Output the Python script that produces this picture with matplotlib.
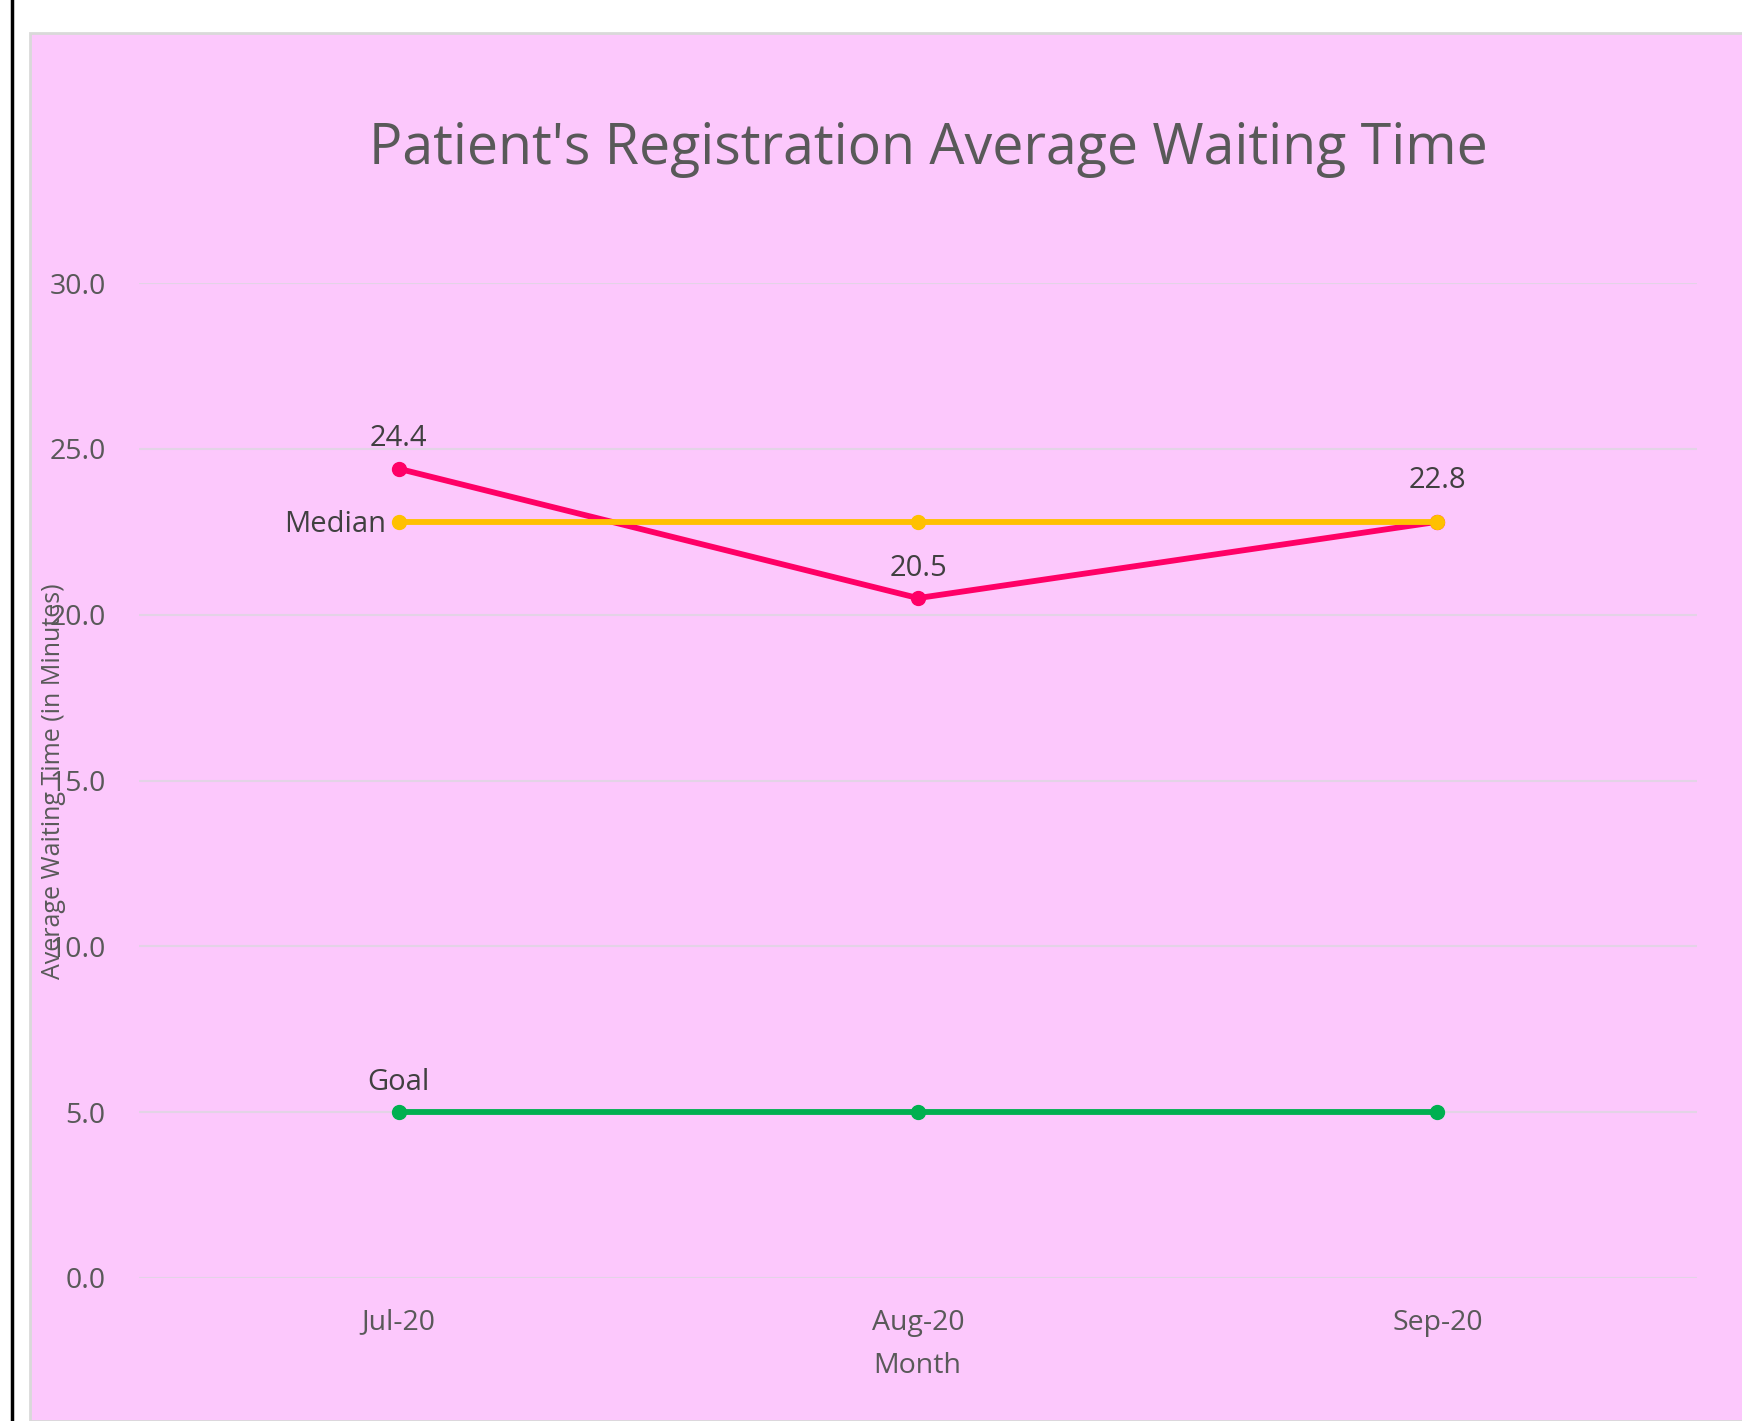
import numpy as np
import matplotlib.pyplot as plt
from matplotlib.patches import Rectangle
from matplotlib.lines import Line2D

# chart data
months = ['Jul-20', 'Aug-20', 'Sep-20']
waiting = [24.4, 20.5, 22.8]
median = [22.8, 22.8, 22.8]
goal = [5.0, 5.0, 5.0]
yticks = [0, 5, 10, 15, 20, 25, 30]

W, H = 1742, 1421
plt.rcParams['font.family'] = ['Open Sans', 'DejaVu Sans']

fig = plt.figure(figsize=(W / 100, H / 100), dpi=100)
fig.patch.set_facecolor('white')

# pink chart area and the black line at the left edge
fig.add_artist(Rectangle((30 / W, 0), 1, 1 - 33 / H, transform=fig.transFigure,
                         facecolor='#FCC8FC', edgecolor='#D9D9D9', linewidth=2, zorder=0))
fig.add_artist(Line2D([11.5 / W, 11.5 / W], [0, 1], transform=fig.transFigure,
                      color='black', linewidth=2.5))

ax = fig.add_axes([139 / W, (H - 1278) / H, (1697 - 139) / W, (1278 - 283) / H])
ax.set_facecolor('none')
x = np.arange(len(months))

ax.plot(x, goal, color='#00B050', linewidth=4.2, marker='o', markersize=10, zorder=3)
ax.plot(x, waiting, color='#FF0066', linewidth=4.2, marker='o', markersize=10, zorder=4)
ax.plot(x, median, color='#FFC000', linewidth=4.2, marker='o', markersize=10, zorder=5)

ax.set_xlim(-0.5, len(months) - 0.5)
ax.set_ylim(0, 30)
ax.set_yticks(yticks)
ax.set_yticklabels([f'{v:.1f}' for v in yticks])
ax.set_xticks(x)
ax.set_xticklabels(months)
ax.tick_params(axis='both', length=0, labelsize=20.5, labelcolor='#595959')
ax.tick_params(axis='y', pad=24)
ax.tick_params(axis='x', pad=22)
ax.grid(axis='y', color='#E3D3E6', linewidth=1.5)
for s in ax.spines.values():
    s.set_visible(False)

# data labels
lab = dict(fontsize=21, color='#404040', ha='center', va='bottom')
for i, v in enumerate(waiting):
    if i == 2:
        ax.annotate(f'{v:.1f}', (i, v), xytext=(0, 19), textcoords='offset points', **lab)
    else:
        ax.annotate(f'{v:.1f}', (i, v), xytext=(0, 11), textcoords='offset points', **lab)
ax.annotate('Median', (0, median[0]), xytext=(-9, -2), textcoords='offset points',
            fontsize=21, color='#404040', ha='right', va='center')
ax.annotate('Goal', (0, goal[0]), xytext=(0, 11), textcoords='offset points', **lab)

fig.text(928 / W, 1 - 150 / H, "Patient's Registration Average Waiting Time",
         fontsize=40, color='#595959', ha='center', va='center')
fig.text(53 / W, 1 - 781 / H, 'Average Waiting Time (in Minutes)', rotation=90,
         fontsize=18, color='#595959', ha='center', va='center')
fig.text(917 / W, 1 - 1366 / H, 'Month', fontsize=20.5, color='#595959',
         ha='center', va='center')

fig.savefig('out.png', dpi=100)
